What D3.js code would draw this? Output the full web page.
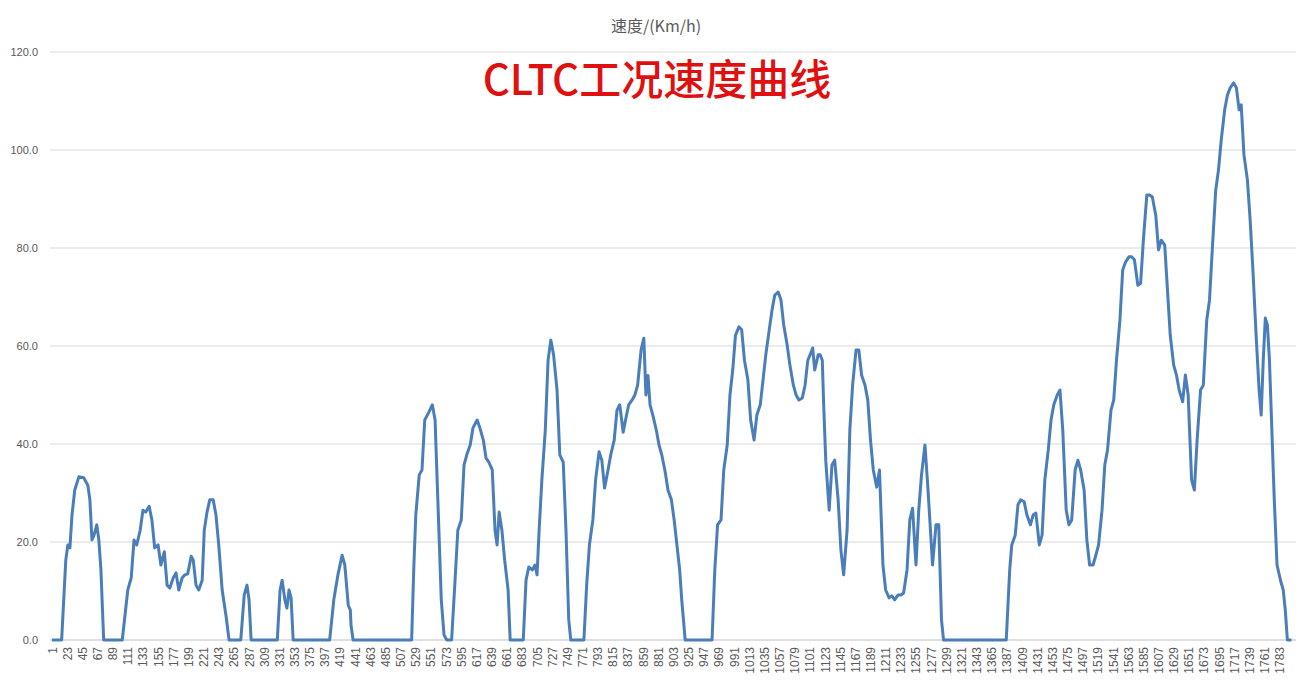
<!DOCTYPE html>
<html><head><meta charset="utf-8">
<script src="https://cdn.jsdelivr.net/npm/d3@7"></script>
<style>body{margin:0;background:#fff}</style></head>
<body><svg id="c" width="1314" height="688"></svg>
<script>
const times=[1,15,21,24,27,30,34,40,47,53,56,59,62,66,69,72,76,
103,111,116,120,124,129,133,137,142,146,150,155,159,164,168,172,177,181,185,190,194,198,203,206,210,214,219,222,226,230,235,239,243,248,254,258,
275,280,284,287,290,328,332,335,339,342,345,348,351,404,410,416,422,426,431,434,435,438,
523,526,529,534,538,542,548,553,557,561,566,570,574,
581,586,590,595,599,603,608,612,618,622,627,631,635,640,644,647,650,654,658,663,666,
685,689,693,698,702,705,708,712,717,721,725,729,734,738,743,747,751,754,
773,777,781,786,790,795,799,803,808,812,817,821,825,830,834,838,843,847,851,856,860,863,866,869,873,878,882,886,891,895,900,904,908,912,915,920,
959,963,967,972,976,981,985,989,993,998,1002,1006,1011,1015,1020,1024,1029,1033,1037,1042,1046,1050,1055,1059,1063,1068,1072,1077,1081,1085,1090,1094,1098,1103,1105,1108,1113,1116,1119,1121,1124,1129,1133,1137,1142,1146,1150,1155,1159,1163,1168,1172,1176,1181,1185,1189,1193,1198,1202,1207,1211,1216,1220,1224,1229,1233,1237,1242,1246,1250,1255,1259,1263,1268,1272,1276,1279,1284,1288,1292,1295,
1386,1391,1394,1399,1403,1407,1412,1416,1421,1425,1429,1434,1438,1442,1447,1451,1455,1460,1464,1468,1473,1477,1481,1486,1490,1494,1499,1503,1507,1512,1516,1520,1525,1529,1533,1538,1542,1546,1551,1555,1559,1564,1568,1572,1577,1581,1585,1590,1594,1598,1603,1607,1611,1616,1620,1624,1629,1633,1637,1642,1646,1650,1655,1659,1663,1668,1672,1677,1681,1685,1690,1694,1698,1703,1707,1711,1716,1720,1724,1727,1731,1736,1740,1744,1749,1753,1756,1759,1762,1765,1768,1771,1775,1779,1784,1788,1791,1794,1800];
const speeds=[0,0,16.3,19.4,18.8,25.5,30.6,33.3,33.1,31.6,28.6,20.4,21.4,23.5,20.4,14.3,0,
0,10.2,12.7,20.4,19.4,22.4,26.5,26.1,27.3,24.5,18.8,19.4,15.3,18,11.2,10.6,12.7,13.7,10.2,12.7,13.3,13.5,17.1,16.3,11.2,10.2,12.2,22.4,26.1,28.6,28.6,25.5,19.4,10.2,4.5,0,
0,9.2,11.2,8.2,0,0,10.2,12.2,8.2,6.5,10.2,8.6,0,0,8.2,13.3,17.3,15.3,7.1,6.1,3,0,
0,14.3,25.5,33.7,34.7,44.9,46.5,48,44.9,28.6,8.2,1,0,
0,12.2,22.4,24.5,35.7,37.8,39.8,43.3,44.9,43.3,40.8,37.1,36.3,34.7,22.4,19.4,26.1,22.4,16.3,10.2,0,
0,12.2,14.9,14.3,15.3,13.3,22.4,32.7,42.9,57.1,61.2,58.2,51,37.8,36.3,22.4,4.1,0,
0,11.2,19.4,24.5,32.7,38.4,36.7,31,34.7,37.8,40.8,46.9,48,42.4,45.3,48,49,50,52,59.2,61.6,50,54,48,45.9,42.9,39.8,37.8,34.3,30.6,28.6,24.5,19.4,14.3,8.2,0,
0,14.3,23.5,24.5,34.7,39.8,50,55.1,62.2,63.9,63.3,57.1,53.1,44.9,40.8,45.9,48,53.1,58.2,63.3,67.3,70.4,71,69.4,64.3,60.2,56.1,52,50,49,49.4,52,57.1,58.8,59.6,55.1,58.2,58.2,57.1,48,36.7,26.5,35.7,36.7,28.6,18.4,13.3,22.4,42.9,52,59.2,59.2,54.1,52,49,40.8,34.7,31.2,34.7,15.3,10.2,8.6,9,8.2,9.2,9.2,9.6,14.3,24.5,26.9,15.3,26.5,33.7,39.8,31.6,22.4,15.3,23.5,23.5,4.1,0,
0,14.3,19.4,21.4,27.6,28.6,28.2,25.5,23.5,25.5,25.9,19.4,21.4,32.7,38.8,44.9,48,50,51,42.9,26.5,23.5,24.5,34.7,36.7,34.7,30.6,20.4,15.3,15.3,17.3,19.4,26.5,35.7,38.8,46.9,49,57.1,65.3,75.5,77.1,78.2,78.2,77.6,72.4,72.8,81.6,90.8,90.8,90.4,86.7,79.6,81.6,80.6,71.4,62.2,56.1,54.1,51,48.6,54.1,50,32.7,30.6,40.8,51,52,65.3,69.4,79.6,91.8,95.9,102,108.2,111.2,112.7,113.7,112.7,108.2,109.2,99,93.9,85.7,75.5,61.2,51,45.9,57.1,65.7,64.3,57.1,44.9,28.6,15.3,12.2,10.2,6.1,0,0];
const xTicks=d3.range(1,1801,22);
const yTicks=[0,20,40,60,80,100,120];
const title="速度/(Km/h)", subtitle="CLTC工况速度曲线";

const svg=d3.select("#c");
const x=d3.scaleLinear().domain([1,1800]).range([52,1291.5]);
const y=d3.scaleLinear().domain([0,120]).range([640,52]);
svg.append("g").selectAll("line").data(yTicks.slice(1)).join("line")
 .attr("x1",50).attr("x2",1296).attr("y1",d=>y(d)).attr("y2",d=>y(d)).attr("stroke","#d9d9d9");
svg.append("line").attr("x1",50).attr("x2",1296).attr("y1",y(0)).attr("y2",y(0)).attr("stroke","#bfbfbf");
svg.append("g").selectAll("text").data(yTicks).join("text")
 .attr("x",38).attr("y",d=>y(d)+4).attr("text-anchor","end")
 .attr("font-family","Liberation Sans, Arial").attr("font-size",11).attr("fill","#595959")
 .text(d=>d3.format(".1f")(d));
svg.append("g").selectAll("text").data(xTicks).join("text")
 .attr("transform",d=>`translate(${x(d)+4.5},647) rotate(-90)`).attr("text-anchor","end")
 .attr("font-family","Liberation Sans, Arial").attr("font-size",12).attr("fill","#595959")
 .text(d=>d);
svg.append("text").attr("x",656).attr("y",32).attr("text-anchor","middle")
 .attr("font-family","Noto Sans CJK SC").attr("font-size",16).attr("fill","#595959").text(title);
svg.append("text").attr("x",657).attr("y",95).attr("text-anchor","middle")
 .attr("font-family","Noto Sans CJK SC").attr("font-size",42).attr("font-weight",500).attr("fill","#e01010").text(subtitle);
const pts=times.map((t,i)=>[t,speeds[i]]);
svg.append("path").datum(pts).attr("fill","none").attr("stroke","#4a7ebb").attr("stroke-width",3)
 .attr("stroke-linejoin","round")
 .attr("d",d3.line().x(d=>x(d[0])).y(d=>y(d[1])));
</script></body></html>
